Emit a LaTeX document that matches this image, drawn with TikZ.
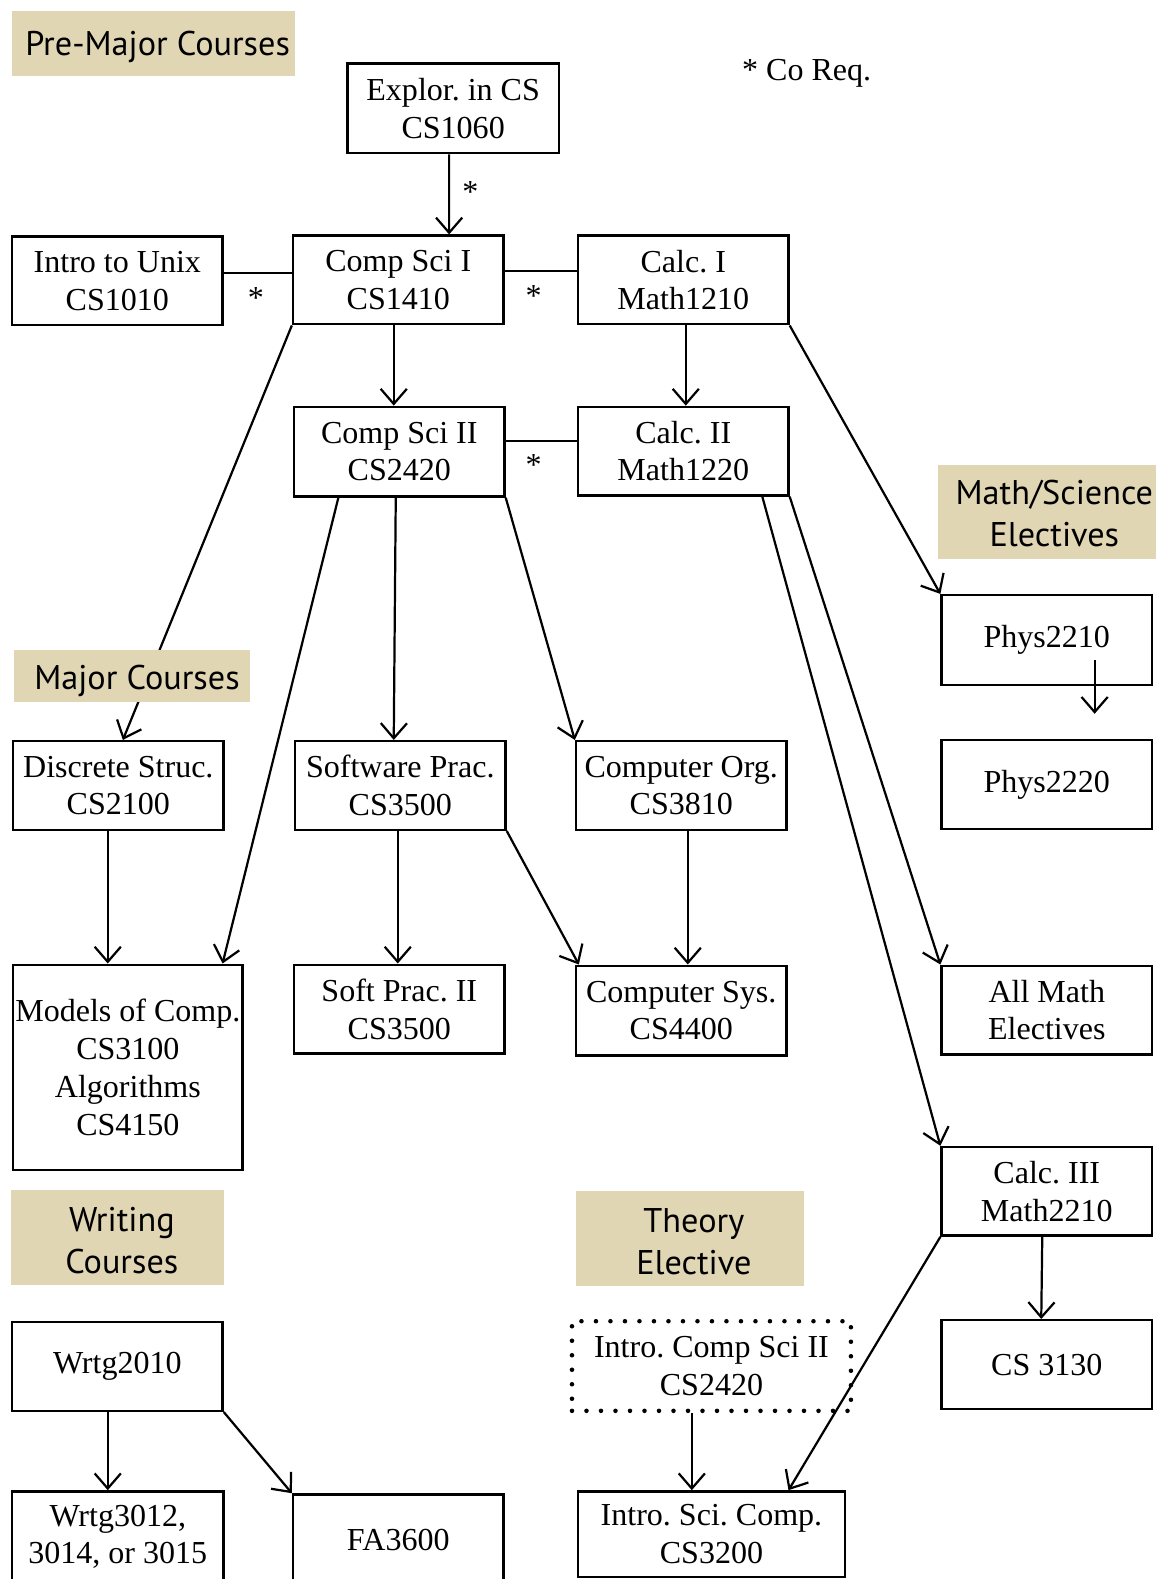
\documentclass[tikz,border=0pt]{standalone}
\usepackage{fontspec}
\setmainfont{Liberation Serif}
\newfontfamily\lblfont{PT Sans}
\usetikzlibrary{arrows.meta,calc}
\definecolor{tanlbl}{RGB}{224,214,180}
\frenchspacing
\newcommand\mybox[7][]{%
  \pgfmathsetmacro\bxw{#5-#3}\pgfmathsetmacro\bxh{#6-#4}%
  \pgfmathsetmacro\bxx{(#3+#5)/2}\pgfmathsetmacro\bxy{(#4+#6)/2}%
  \node[cbox,minimum width=\bxw bp,minimum height=\bxh bp,#1] (#2) at (\bxx,\bxy) {#7};}
\begin{document}
\begin{tikzpicture}[x=1bp,y=-1bp,
  cbox/.style={draw,line width=2.4bp,inner sep=0pt,align=center,font=\fontsize{31.8bp}{37.5bp}\selectfont\frenchspacing},
  dotbox/.style={line width=4.5bp,line cap=round,dash pattern=on 0bp off 14.4bp},
  arr/.style={line width=2.2bp,-{Straight Barb[length=15bp,width=26bp]}},
  ln/.style={line width=2.2bp},
  star/.style={anchor=base,inner sep=0pt,font=\fontsize{31.8bp}{37.5bp}\selectfont\frenchspacing},
  tanbox/.style={fill=tanlbl,inner sep=0pt},
  lbl/.style={inner sep=0pt,align=center,font=\lblfont\fontsize{34bp}{41bp}\selectfont}]
\useasboundingbox (0,0) rectangle (1148,1568);
% course boxes
\mybox{explor}{345}{63}{555}{152}{Explor. in CS\\CS1060}
\mybox{unix}{12}{235}{221}{323}{Intro to Unix\\CS1010}
\mybox{csone}{291}{234}{500}{322}{Comp Sci I\\CS1410}
\mybox{calcone}{574}{234}{783}{322}{Calc. I\\Math1210}
\mybox{cstwo}{292}{404}{501}{493}{Comp Sci II\\CS2420}
\mybox{calctwo}{574}{404}{783}{492}{Calc. II\\Math1220}
\mybox{physone}{935}{591}{1144}{680}{Phys2210}
\mybox{disc}{13}{736}{222}{824}{Discrete Struc.\\CS2100}
\mybox{swp}{293}{736}{502}{824}{Software Prac.\\CS3500}
\mybox{corg}{572}{736}{781}{824}{Computer Org.\\CS3810}
\mybox{phystwo}{935}{735}{1144}{823}{Phys2220}
\mybox{models}{13}{958}{241}{1162}{Models of Comp.\\CS3100\\Algorithms\\CS4150}
\mybox{swptwo}{292}{958}{501}{1046}{Soft Prac. II\\CS3500}
\mybox{csys}{572}{959}{781}{1048}{Computer Sys.\\CS4400}
\mybox{allmath}{935}{959}{1144}{1047}{All Math\\Electives}
\mybox{calcthree}{935}{1139}{1144}{1227}{Calc. III\\Math2210}
\mybox{cstt}{935}{1311}{1144}{1399}{CS 3130}
\mybox{wone}{12}{1313}{221}{1401}{Wrtg2010}
\mybox[dotbox]{ics}{568}{1312}{845}{1401}{Intro. Comp Sci II\\CS2420}
\mybox{wtwo}{12}{1481}{222}{1571}{Wrtg3012,\\3014, or 3015}
\mybox{fa}{291}{1484}{500}{1574}{FA3600}
\mybox{isc}{574}{1481}{839}{1566}{Intro. Sci. Comp.\\CS3200}
% connectors
\draw[arr] ($(explor.south)+(-4,0)$) -- ($(csone.north)+(50.5,0)$);
\draw[ln] ($(unix.east)+(0,-8)$) -- ($(csone.west)+(0,-7)$);
\draw[ln] ($(csone.east)+(0,-9)$) -- ($(calcone.west)+(0,-9)$);
\draw[ln] ($(cstwo.east)+(0,-10.5)$) -- ($(calctwo.west)+(0,-10)$);
\draw[arr] ($(csone.south)+(-4.5,0)$) -- ($(cstwo.north)+(-5.5,0)$);
\draw[arr] ($(calcone.south)+(2.5,0)$) -- ($(calctwo.north)+(2.5,0)$);
\draw[arr] (csone.south west) -- ($(disc.north)+(4.5,0)$);
\draw[arr] ($(cstwo.south)+(-60.5,0)$) -- ($(models.north)+(94,0)$);
\draw[arr] ($(cstwo.south)+(-3.5,0)$) -- ($(swp.north)+(-6.5,0)$);
\draw[arr] (cstwo.south east) -- (corg.north west);
\draw[arr] (calcone.south east) -- (physone.north west);
\draw[arr] ($(physone.center)+(47.5,20)$) -- ($(phystwo.north)+(47.5,-25)$);
\draw[arr] (calctwo.south east) -- (allmath.north west);
\draw[arr] ($(calctwo.south)+(78.5,0)$) -- (calcthree.north west);
\draw[arr] ($(disc.south)+(-10.5,0)$) -- ($(models.north)+(-20,0)$);
\draw[arr] ($(swp.south)+(-2.5,0)$) -- ($(swptwo.north)+(-1.5,0)$);
\draw[arr] (swp.south east) -- ($(csys.north west)+(4,0)$);
\draw[arr] ($(corg.south)+(6.5,0)$) -- ($(csys.north)+(6.5,0)$);
\draw[arr] ($(calcthree.south)+(-4.5,0)$) -- ($(cstt.north)+(-5.5,0)$);
\draw[arr] (calcthree.south west) -- ($(isc.north)+(76.5,0)$);
\draw[arr] ($(ics.south)+(-19.5,0)$) -- ($(isc.north)+(-19.5,0)$);
\draw[arr] ($(wone.south)+(-9.5,0)$) -- ($(wtwo.north)+(-10,0)$);
\draw[arr] (wone.south east) -- (fa.north west);
% asterisks and note
\node[star] (s1) at (467,201) {*};
\node[star] (s2) at (254,306) {*};
\node[star] (s3) at (530,304) {*};
\node[star] (s4) at (530,472) {*};
\node[star] (coreq) at (801,80) {* Co Req.};
% section labels
\node[tanbox,minimum width=281bp,minimum height=64bp] (premaj) at (152.5,43) {};
\node[lbl] (premajt) at (156.5,47) {Pre-Major Courses};
\node[tanbox,minimum width=217bp,minimum height=93bp] (mathsci) at (1039.5,508.5) {};
\node[lbl] (mathscit) at (1047,510) {Math/Science\\Electives};
\node[tanbox,minimum width=234bp,minimum height=52bp] (major) at (131,671) {};
\node[lbl] (majort) at (136,676) {Major Courses};
\node[tanbox,minimum width=211bp,minimum height=94bp] (writing) at (116.5,1229) {};
\node[lbl] (writingt) at (121,1232) {Writing\\Courses};
\node[tanbox,minimum width=226bp,minimum height=94bp] (theory) at (685,1230) {};
\node[lbl] (theoryt) at (689,1233) {Theory\\Elective};
\end{tikzpicture}
\end{document}
